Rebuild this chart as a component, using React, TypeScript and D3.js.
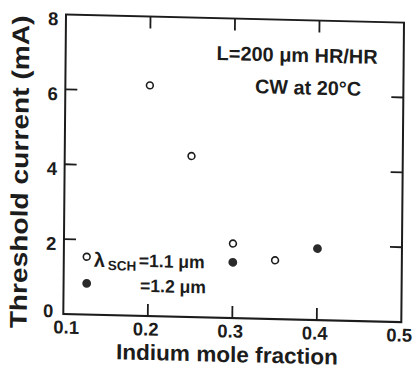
import React from "react";
import * as d3 from "d3";

const xTickValues = [0.1, 0.2, 0.3, 0.4, 0.5];
const yTickValues = [0, 2, 4, 6, 8];
const xTickLabels = ["0.1", "0.2", "0.3", "0.4", "0.5"];
const yTickLabels = ["0", "2", "4", "6", "8"];

const openX = [0.2, 0.25, 0.3, 0.35];
const openY = [6.16, 4.3, 1.99, 1.57];
const filledX = [0.3, 0.4];
const filledY = [1.49, 1.91];

const xTitle = "Indium mole fraction";
const yTitle = "Threshold current (mA)";
const note1 = "L=200 \u03bcm HR/HR";
const note2 = "CW at 20\u00b0C";
const legend1 = "=1.1 \u03bcm";
const legend2 = "=1.2 \u03bcm";

const W = 412;
const H = 377;
const M = { left: 66, right: 404, top: 14.5, bottom: 314 };
const INK = "#1c1c1c";
const FONT = "'Liberation Sans', Arial, Helvetica, sans-serif";

export default function App() {
  const x = d3.scaleLinear().domain([0.1, 0.5]).range([M.left, M.right]);
  const y = d3.scaleLinear().domain([0, 8]).range([M.bottom, M.top]);
  const tickLen = 12;
  const innerX = xTickValues.slice(1, -1);
  const innerY = yTickValues.slice(1, -1);

  return (
    <svg
      width={W}
      height={H}
      style={{ position: "absolute", left: 0, top: 0, background: "#fff" }}
      fontFamily={FONT}
    >
      <rect width={W} height={H} fill="#fff" />
      <g transform="matrix(1 0.024 -0.009 1 0.13 -1.58)" fill={INK}>
        {/* frame */}
        <rect
          x={M.left}
          y={M.top}
          width={M.right - M.left}
          height={M.bottom - M.top}
          fill="none"
          stroke={INK}
          strokeWidth={2}
        />
        {/* ticks */}
        {innerX.map((v) => (
          <g key={"xt" + v} stroke={INK} strokeWidth={1.8}>
            <line x1={x(v)} x2={x(v)} y1={M.bottom} y2={M.bottom - tickLen} />
            <line x1={x(v)} x2={x(v)} y1={M.top} y2={M.top + tickLen} />
          </g>
        ))}
        {innerY.map((v) => (
          <g key={"yt" + v} stroke={INK} strokeWidth={1.8}>
            <line x1={M.left} x2={M.left + tickLen} y1={y(v)} y2={y(v)} />
            <line x1={M.right} x2={M.right - tickLen} y1={y(v)} y2={y(v)} />
          </g>
        ))}
        {/* tick labels */}
        {xTickValues.map((v, i) => (
          <text
            key={"xl" + v}
            x={x(v) + (i === 0 ? 3 : -2)}
            y={333.5}
            textAnchor="middle"
            fontSize={18.5}
            fontWeight="bold"
          >
            {xTickLabels[i]}
          </text>
        ))}
        {yTickValues.map((v, i) => (
          <text
            key={"yl" + v}
            x={i === 0 ? 56 : 58.5}
            y={y(v) + (i === 0 ? 3.5 : 11)}
            textAnchor="end"
            fontSize={18.5}
            fontWeight="bold"
          >
            {yTickLabels[i]}
          </text>
        ))}
        {/* axis titles */}
        <text
          x={230}
          y={358}
          textAnchor="middle"
          fontSize={22}
          fontWeight="bold"
          textLength={222}
          lengthAdjust="spacingAndGlyphs"
        >
          {xTitle}
        </text>
        <text
          transform="translate(29.4,173) rotate(-90)"
          textAnchor="middle"
          fontSize={24}
          fontWeight="bold"
          textLength={313}
          lengthAdjust="spacingAndGlyphs"
        >
          {yTitle}
        </text>
        {/* annotations */}
        <text x={217} y={56.4} fontSize={20} fontWeight="bold" textLength={161} lengthAdjust="spacingAndGlyphs">
          {note1}
        </text>
        <text x={255.7} y={88.7} fontSize={20} fontWeight="bold" textLength={106} lengthAdjust="spacingAndGlyphs">
          {note2}
        </text>
        {/* data */}
        {openX.map((v, i) => (
          <circle
            key={"o" + i}
            cx={x(v)}
            cy={y(openY[i])}
            r={3.4}
            fill="#fff"
            stroke={INK}
            strokeWidth={1.6}
          />
        ))}
        {filledX.map((v, i) => (
          <circle key={"f" + i} cx={x(v)} cy={y(filledY[i])} r={4.4} fill="#2a2a2a" />
        ))}
        {/* legend */}
        <circle cx={88.9} cy={256.2} r={3.4} fill="#fff" stroke={INK} strokeWidth={1.6} />
        <circle cx={89.1} cy={282.8} r={4.4} fill="#2a2a2a" />
        <text x={96} y={266} fontSize={20} fontWeight="bold">
          {"\u03bb"}
        </text>
        <text x={110} y={269} fontSize={13.5} fontWeight="bold">
          SCH
        </text>
        <text x={141} y={265} fontSize={18} fontWeight="bold" textLength={66} lengthAdjust="spacingAndGlyphs">
          {legend1}
        </text>
        <text x={142.5} y={290} fontSize={18} fontWeight="bold" textLength={66} lengthAdjust="spacingAndGlyphs">
          {legend2}
        </text>
      </g>
    </svg>
  );
}
